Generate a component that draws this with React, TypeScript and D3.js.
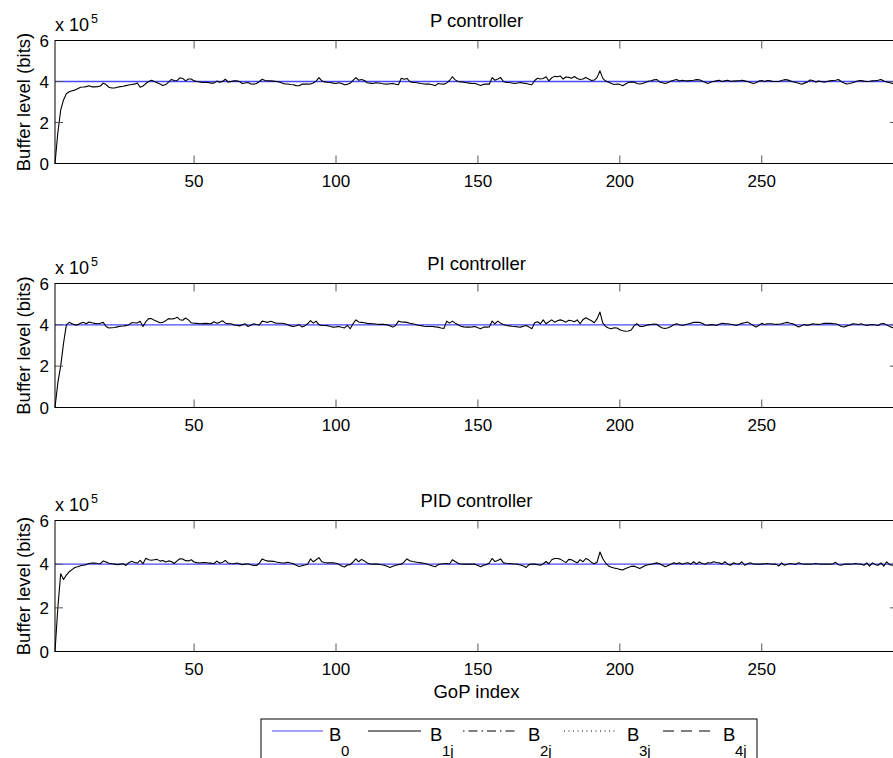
import React from 'react';
import * as d3 from 'd3';

// ---------- data (values in units of 1e5 bits) ----------
const xTicks = [50, 100, 150, 200, 250];
const yTicks = [0, 2, 4, 6];
const xDomain = [1, 298];
const yDomain = [0, 6];
const B0_LEVEL = 4;

const P_B1 = [
  0, 1.5, 2.6, 3.1, 3.4, 3.5, 3.55, 3.58, 3.65, 3.72,
  3.73, 3.75, 3.79, 3.74, 3.74, 3.75, 3.78, 3.92, 3.85, 3.72,
  3.68, 3.68, 3.72, 3.75, 3.77, 3.8, 3.83, 3.85, 3.87, 3.93,
  3.72, 3.78, 3.9, 4.0, 4.06, 4.0, 3.94, 3.88, 3.8, 3.85,
  3.97, 4.1, 4.05, 4.04, 4.18, 4.15, 4.03, 4.12, 4.12, 4.03,
  4.0, 3.98, 3.95, 3.96, 3.95, 3.92, 3.92, 4.02, 3.97, 4.0,
  4.11, 3.97, 4.0, 4.03, 4.03, 4.0, 3.9, 3.93, 3.95, 3.88,
  3.87, 3.9, 4.0, 4.11, 4.05, 4.03, 4.03, 4.02, 4.0, 3.98,
  3.93, 3.88, 3.88, 3.85, 3.84, 3.8, 3.79, 3.87, 3.88, 3.87,
  3.88, 3.93, 4.02, 4.19, 4.03, 3.98, 3.96, 3.95, 3.92, 3.9,
  3.94, 3.9, 3.84, 3.86, 3.92, 4.05, 4.19, 4.06, 4.1, 4.05,
  3.94, 3.92, 3.9, 3.94, 3.93, 3.9, 3.88, 3.87, 3.89, 3.9,
  3.87, 3.84, 4.16, 4.11, 4.15, 4.0, 3.95, 3.95, 3.93, 3.9,
  3.88, 3.87, 3.87, 3.84, 3.8, 3.9, 3.88, 3.87, 3.93, 4.05,
  4.23, 4.08, 4.0, 3.98, 3.96, 3.94, 3.92, 3.9, 3.9, 3.85,
  3.8, 3.86, 3.87, 3.87, 4.19, 4.06, 4.12, 4.19, 4.0, 3.95,
  3.95, 3.93, 3.9, 3.93, 3.95, 3.92, 3.9, 3.87, 3.84, 4.05,
  4.16, 4.12, 4.15, 4.23, 4.03, 4.18, 4.25, 4.23, 4.27, 4.12,
  4.22, 4.2, 4.16, 4.24, 4.15, 4.1, 4.12, 4.2, 4.12, 4.05,
  4.07, 4.2, 4.52, 4.15, 4.02, 3.97, 3.9, 3.85, 3.88, 3.86,
  3.79, 3.88, 3.95, 3.98, 3.97, 3.9, 3.88, 3.9, 3.95, 4.01,
  4.04, 4.08, 4.1, 3.98, 3.94, 3.9, 3.95, 4.02, 4.06, 4.1,
  4.02, 4.06, 4.04, 4.03, 4.05, 4.06, 4.09, 4.08, 4.02, 3.96,
  3.9, 3.96, 4.0, 4.03, 4.06, 4.0, 4.03, 4.06, 4.01, 4.02,
  4.03, 4.04, 4.06, 4.03, 4.0, 3.95, 3.9, 3.94, 4.02, 4.05,
  4.0, 4.05, 4.03, 4.0, 4.0, 4.0, 4.05, 4.09, 4.08, 4.03,
  3.99, 3.95, 3.91, 3.87, 3.92, 3.97, 4.07, 4.05, 3.97, 4.02,
  4.0, 3.96, 4.0, 4.03, 4.05, 4.06, 4.1, 4.0, 3.93, 3.88,
  3.9, 3.94, 3.99, 4.04, 4.05, 4.02, 4.0, 4.01, 4.03, 4.04,
  4.06, 4.1, 4.02, 3.98, 3.95, 3.9, 3.92, 3.95,
];

const PI_B1 = [
  0, 1.2, 2.0, 3.1, 4.0, 4.12, 4.05, 4.0, 4.0, 4.08,
  4.12, 4.05, 4.14, 4.1, 4.07, 4.05, 4.08, 4.12, 3.92, 3.85,
  3.86, 3.87, 3.9, 3.93, 3.94, 3.96, 4.0, 4.1, 4.1, 4.09,
  4.17, 3.92, 4.15, 4.3, 4.3, 4.22, 4.16, 4.1, 4.12, 4.2,
  4.3, 4.28, 4.3, 4.37, 4.25, 4.22, 4.33, 4.24, 4.1, 4.08,
  4.07, 4.05, 4.06, 4.07, 4.06, 4.05, 4.15, 4.08, 4.12, 4.2,
  4.08, 4.06, 4.05, 4.0, 3.98, 3.95, 4.0, 4.05, 3.92, 3.98,
  4.05, 4.02, 4.0, 4.18, 4.15, 4.12, 4.17, 4.12, 4.08, 4.08,
  4.08, 4.05, 4.0, 3.95, 3.92, 3.96, 4.0, 3.9, 3.95, 4.05,
  4.2, 4.08, 4.18, 4.0, 3.97, 3.97, 3.96, 3.92, 3.89, 3.9,
  3.92, 3.88, 3.85, 3.97, 3.81, 4.05, 4.24, 4.14, 4.12, 4.1,
  4.07, 4.06, 4.05, 4.04, 4.02, 4.02, 4.02, 4.0, 3.95, 3.89,
  3.97, 4.18, 4.14, 4.13, 4.12, 4.08, 4.05, 4.02, 3.98, 3.96,
  3.93, 3.92, 3.92, 3.92, 3.9, 3.89, 3.85, 3.82, 4.18, 4.08,
  4.18, 4.08, 4.0, 3.93, 3.9, 3.89, 3.89, 3.9, 3.92, 3.86,
  3.81, 3.89, 3.89, 3.9, 4.18, 4.05, 4.18, 4.08, 4.02, 3.97,
  3.95, 3.93, 3.92, 3.9, 3.89, 3.93, 3.97, 3.9, 3.81, 4.1,
  4.15, 4.05, 4.24, 4.05, 4.15, 4.24, 4.13, 4.2, 4.24, 4.2,
  4.13, 4.22, 4.2, 4.15, 4.24, 4.05, 4.25, 4.34, 4.27, 4.2,
  4.1, 4.3, 4.62, 4.08, 3.92, 3.85, 3.81, 3.86, 3.85, 3.76,
  3.71, 3.69, 3.7, 3.75, 3.95, 4.06, 3.92, 3.92, 3.96, 4.0,
  4.02, 4.04, 4.03, 3.92, 3.85, 3.82, 3.86, 3.92, 4.0, 4.05,
  4.0, 3.97, 4.0, 4.04, 4.08, 4.12, 4.12, 4.12, 4.08, 3.99,
  3.98, 4.01, 4.0, 3.97, 4.03, 4.08, 4.06, 4.05, 4.03, 4.0,
  3.97, 4.02, 4.07, 4.1, 4.13, 4.05, 3.97, 3.9, 3.98, 4.07,
  4.02, 4.05, 4.05, 4.04, 4.02, 4.03, 4.05, 4.09, 4.12, 4.08,
  4.05, 3.97, 3.9, 3.96, 4.02, 3.97, 4.01, 4.05, 4.03, 4.02,
  4.04, 4.08, 4.07, 4.08, 4.06, 4.05, 4.0, 3.92, 3.9, 3.95,
  3.98, 4.05, 4.04, 4.02, 4.05, 4.0, 3.97, 4.0, 4.02, 3.99,
  3.97, 4.05, 4.06, 3.99, 3.93, 3.86, 3.9, 3.95,
];

const PID_B1 = [
  0, 2.0, 3.56, 3.3, 3.5, 3.65, 3.75, 3.85, 3.88, 3.93,
  3.95, 3.98, 4.03, 4.05, 4.05, 4.03, 4.02, 4.15, 4.1, 4.04,
  4.02, 4.0, 3.98, 4.0, 4.02, 3.94, 4.07, 4.13, 4.08, 4.05,
  4.17, 4.02, 4.27, 4.2, 4.18, 4.2, 4.22, 4.14, 4.17, 4.1,
  4.15, 4.12, 4.03, 4.15, 4.25, 4.24, 4.16, 4.15, 4.2, 4.1,
  4.07, 4.05, 4.07, 4.07, 4.05, 4.05, 4.02, 4.14, 4.05, 4.08,
  4.17, 4.05, 4.03, 4.02, 4.05, 4.02, 3.98, 4.0, 4.02, 3.97,
  3.94, 3.94, 4.05, 4.24, 4.18, 4.14, 4.14, 4.13, 4.1, 4.08,
  4.05, 4.06, 4.09, 4.05, 4.02, 3.95, 3.89, 3.93, 3.96, 4.0,
  4.24, 4.11, 4.2, 4.3, 4.11, 4.08, 4.06, 4.06, 4.06, 4.04,
  4.0, 3.92, 3.87, 3.96, 3.98, 4.1, 4.24, 4.11, 4.22, 4.15,
  4.05, 4.01, 4.0, 4.0, 4.0, 3.97, 3.95, 3.9, 3.85, 3.9,
  3.95, 3.98, 4.0, 4.1, 4.24, 4.16, 4.12, 4.1, 4.08, 4.06,
  4.04, 4.01, 3.96, 3.92, 3.88, 3.98, 4.01, 4.02, 4.03, 4.01,
  4.2, 4.12, 4.04, 4.01, 4.0, 4.0, 4.0, 4.0, 4.0, 3.94,
  3.88, 3.95, 3.98, 4.05, 4.26, 4.12, 4.17, 4.24, 4.06, 4.04,
  4.03, 4.02, 4.01, 4.0, 3.96, 3.92, 3.85, 3.98, 4.0, 4.0,
  3.98, 3.95, 4.02, 4.12, 4.02, 4.2, 4.26, 4.26, 4.23, 4.15,
  4.07, 4.22, 4.2, 4.12, 4.06, 4.21, 4.11, 4.26, 4.2, 4.08,
  4.02, 4.1, 4.56, 4.25, 4.05, 3.92, 3.86, 3.82, 3.8, 3.76,
  3.73, 3.8, 3.85, 3.9, 3.91, 3.86, 3.8, 3.87, 3.94, 3.97,
  4.0, 4.03, 4.06, 4.02, 3.95, 3.88, 3.94, 4.0, 4.06, 4.02,
  4.06, 4.0, 4.04, 4.06, 4.0, 4.11, 4.0, 4.1, 4.03, 4.0,
  4.06, 4.05, 4.11, 4.08, 4.06, 4.0, 4.11, 4.0, 3.95, 4.06,
  4.02, 4.0, 4.11, 3.95, 4.02, 4.06, 4.01, 4.0, 4.01, 4.0,
  4.02, 4.03, 4.01, 4.0, 4.0, 3.91, 4.06, 3.95, 4.0, 4.03,
  4.01, 4.0, 4.06, 4.02, 4.0, 4.0, 4.0, 4.01, 4.03, 4.01,
  4.0, 4.0, 4.0, 4.0, 4.01, 4.09, 3.97, 3.95, 4.0, 4.0,
  4.0, 4.01, 4.03, 4.01, 4.0, 3.95, 4.06, 3.91, 4.06, 3.98,
  3.95, 4.06, 3.91, 4.11, 3.98, 3.95, 4.0, 4.02,
];

const panelTitles = ['P controller', 'PI controller', 'PID controller'];
const yLabel = 'Buffer level (bits)';
const xLabel = 'GoP index';
const legendBases = ['B', 'B', 'B', 'B', 'B'];
const legendSubs = ['0', '1j', '2j', '3j', '4j'];

const FONT = 'Liberation Sans, Arial, Helvetica, sans-serif';
const BLUE = '#4848ff';

export default function App() {
  const W = 893;
  const H = 758;
  const left = 55;
  const right = 898;
  const tickLen = 8;

  const panels = [
    { title: panelTitles[0], data: P_B1, top: 40.5, bottom: 163.5 },
    { title: panelTitles[1], data: PI_B1, top: 283.5, bottom: 407.5 },
    { title: panelTitles[2], data: PID_B1, top: 520.5, bottom: 651.5 },
  ];

  const x = d3.scaleLinear().domain(xDomain).range([left, right]);

  const legendItems = [
    { color: BLUE, dash: undefined, x0: 272, x1: 323, tx: 329 },
    { color: '#000', dash: undefined, x0: 368, x1: 421, tx: 430 },
    { color: '#000', dash: '1.5,4,9,4', x0: 463, x1: 518, tx: 528 },
    { color: '#000', dash: '1,3.5', x0: 564, x1: 615, tx: 627 },
    { color: '#000', dash: '11,7', x0: 663, x1: 715, tx: 723 },
  ];

  return (
    <svg
      width={W}
      height={H}
      style={{ position: 'absolute', left: 0, top: 0, background: '#fff' }}
      fontFamily={FONT}
    >
      <rect x={0} y={0} width={W} height={H} fill="#fff" />
      {panels.map((p, pi) => {
        const y = d3.scaleLinear().domain(yDomain).range([p.bottom, p.top]);
        const line = d3
          .line<number>()
          .x((_, i) => x(i + 1))
          .y((d) => y(d));
        const b0 = p.data.map(() => B0_LEVEL);
        const cy = (p.top + p.bottom) / 2;
        return (
          <g key={pi}>
            {/* data */}
            <path d={line(b0) || ''} fill="none" stroke={BLUE} strokeWidth={1.4} />
            <path d={line(p.data) || ''} fill="none" stroke="#000" strokeWidth={1.1} strokeLinejoin="round" />
            {/* ticks */}
            {xTicks.map((t) => (
              <g key={'x' + t}>
                <line x1={x(t)} x2={x(t)} y1={p.bottom} y2={p.bottom - tickLen} stroke="#555" strokeWidth={1} />
                <line x1={x(t)} x2={x(t)} y1={p.top} y2={p.top + tickLen} stroke="#555" strokeWidth={1} />
                <text x={x(t)} y={p.bottom + 23} textAnchor="middle" fontSize={17} fill="#000">
                  {t}
                </text>
              </g>
            ))}
            {yTicks.map((t) => (
              <g key={'y' + t}>
                <line x1={left} x2={left + tickLen} y1={y(t)} y2={y(t)} stroke="#555" strokeWidth={1} />
                <line x1={right} x2={right - tickLen} y1={y(t)} y2={y(t)} stroke="#555" strokeWidth={1} />
                <text x={left - 6} y={y(t)} dy="0.36em" textAnchor="end" fontSize={17} fill="#000">
                  {t}
                </text>
              </g>
            ))}
            {/* box */}
            <rect x={left} y={p.top} width={right - left} height={p.bottom - p.top} fill="none" stroke="#000" strokeWidth={1} />
            {/* exponent */}
            <text x={left} y={p.top - 9.5} fontSize={18} fill="#000">
              x 10
            </text>
            <text x={left + 36} y={p.top - 17.5} fontSize={12.5} fill="#000">
              5
            </text>
            {/* title */}
            <text x={(left + right) / 2} y={p.top - 14} textAnchor="middle" fontSize={18.5} fill="#000">
              {p.title}
            </text>
            {/* y label */}
            <text
              transform={`translate(29.5,${cy}) rotate(-90)`}
              textAnchor="middle"
              fontSize={18.5}
              fill="#000"
            >
              {yLabel}
            </text>
          </g>
        );
      })}
      {/* x label */}
      <text x={(left + right) / 2} y={698} textAnchor="middle" fontSize={18.5} fill="#000">
        {xLabel}
      </text>
      {/* legend */}
      <rect x={261} y={719} width={496} height={60} fill="#fff" stroke="#000" strokeWidth={1} />
      {legendItems.map((it, i) => (
        <g key={'lg' + i}>
          <line x1={it.x0} x2={it.x1} y1={731} y2={731} stroke={it.color} strokeWidth={1} strokeDasharray={it.dash} />
          <text x={it.tx} y={740.5} fontSize={18.5} fill="#000">
            {legendBases[i]}
          </text>
          <text x={it.tx + 12} y={755.5} fontSize={15} fill="#000">
            {legendSubs[i]}
          </text>
        </g>
      ))}
    </svg>
  );
}
